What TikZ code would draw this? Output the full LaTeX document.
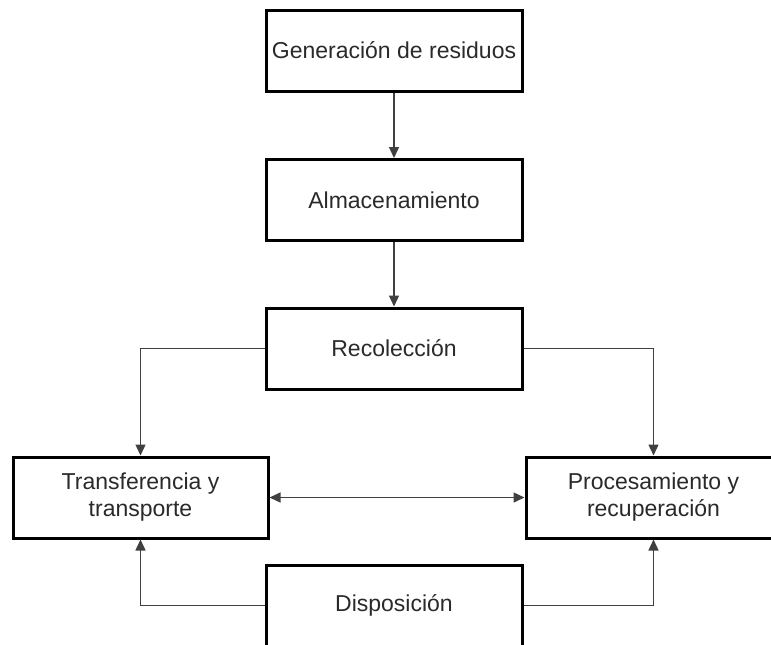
\documentclass[tikz,border=0pt]{standalone}
\usepackage{fontspec}
\setmainfont{Liberation Sans}
\usetikzlibrary{arrows.meta}
\definecolor{inkgray}{HTML}{2A2A2A}
\definecolor{linegray}{HTML}{404040}
\tikzset{
  stagebox/.style={draw=black, line width=3pt, fill=white, minimum width=256pt,
    minimum height=81pt, inner sep=2pt, align=center, text=inkgray,
    font=\fontsize{23}{27}\selectfont},
  flow/.style={draw=linegray, line width=1.4pt,
    -{Triangle[length=11pt,width=10pt]}},
  twoway/.style={draw=linegray, line width=1.4pt,
    {Triangle[length=11pt,width=10pt]}-{Triangle[length=11pt,width=10pt]}}
}
\begin{document}
\begin{tikzpicture}[x=1pt,y=-1pt]
  \useasboundingbox (0,0) rectangle (771,645);
  \clip (0,0) rectangle (771,645);
  \fill[white] (0,0) rectangle (771,645);

  % stages of the waste management chain
  \node[stagebox] (gen)   at (394,50.5)  {Generación de residuos};
  \node[stagebox] (alm)   at (394,200)   {Almacenamiento};
  \node[stagebox] (rec)   at (394,348.5) {Recolección};
  \node[stagebox, minimum width=255pt] (trans) at (140.5,497.5) {Transferencia y\\transporte};
  \node[stagebox, minimum width=255pt] (proc)  at (653.5,497.5) {Procesamiento y\\recuperación};
  \node[stagebox] (disp)  at (394,605.5) {Disposición};

  % connectors
  \draw[flow] (gen) -- (alm);
  \draw[flow] (alm) -- (rec);
  \draw[flow] (rec.west) -| (trans.north);
  \draw[flow] (rec.east) -| (proc.north);
  \draw[twoway] (trans.east) -- (proc.west);
  \draw[flow] (disp.west) -| (trans.south);
  \draw[flow] (disp.east) -| (proc.south);
\end{tikzpicture}
\end{document}
